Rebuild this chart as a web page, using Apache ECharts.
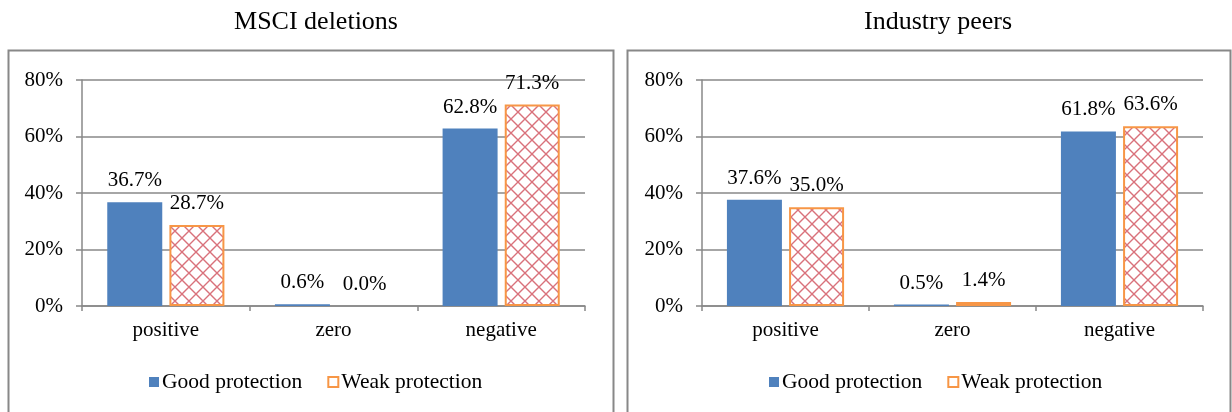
<!DOCTYPE html>
<html><head><meta charset="utf-8">
<script src="https://cdn.jsdelivr.net/npm/echarts@6/dist/echarts.min.js"></script>
<style>html,body{margin:0;padding:0;background:#fff}#c{width:1232px;height:412px}</style>
</head><body><div id="c"></div>
<script>
const categories = ['positive', 'zero', 'negative'];
const seriesNames = ['Good protection', 'Weak protection'];
const panelTitles = ['MSCI deletions', 'Industry peers'];
const msciGood = [0.367, 0.006, 0.628];
const msciWeak = [0.287, 0.000, 0.713];
const peersGood = [0.376, 0.005, 0.618];
const peersWeak = [0.350, 0.014, 0.636];
const yTicks = [0, 0.2, 0.4, 0.6, 0.8];

const FONT = '"Liberation Serif", "Times New Roman", serif';
const BLUE = '#4f81bd', ORANGE = '#f79646', GRID = '#888888';

// crosshatch pattern
const pc = document.createElement('canvas');
const P = 14;
pc.width = P; pc.height = P;
const ctx = pc.getContext('2d');
ctx.fillStyle = '#fff'; ctx.fillRect(0, 0, P, P);
ctx.strokeStyle = 'rgba(210,88,100,0.85)';
ctx.lineWidth = 1.4;
ctx.beginPath();
ctx.moveTo(0, 0); ctx.lineTo(P, P);
ctx.moveTo(P, 0); ctx.lineTo(0, P);
ctx.stroke();

const chart = echarts.init(document.getElementById('c'), null, {renderer: 'canvas'});
const grids = [
  {left: 82, right: 647, top: 80, bottom: 106},
  {left: 702, right: 29, top: 80, bottom: 106}
];
const pct = v => (v * 100).toFixed(1) + '%';
const labelCfg = {show: true, position: 'top', distance: 11, formatter: p => pct(p.value),
  fontFamily: FONT, fontSize: 21, color: '#000'};

function xAx(i) {
  return {type: 'category', gridIndex: i, data: categories,
    axisLine: {lineStyle: {color: GRID, width: 1.5}},
    axisTick: {show: true, length: 5, lineStyle: {color: GRID, width: 1.5}},
    axisLabel: {fontFamily: FONT, fontSize: 21, color: '#000', margin: 14}};
}
function yAx(i) {
  return {type: 'value', gridIndex: i, min: 0, max: 0.8, interval: 0.2,
    axisLine: {show: true, lineStyle: {color: GRID, width: 1.5}},
    axisTick: {show: true, length: 6, lineStyle: {color: GRID, width: 1.5}},
    splitLine: {lineStyle: {color: GRID, width: 1.5}},
    axisLabel: {formatter: v => Math.round(v * 100) + '%', fontFamily: FONT, fontSize: 21, color: '#000', margin: 19}};
}
function bars(i, good, weak) {
  return [
    {name: seriesNames[0], type: 'bar', xAxisIndex: i, yAxisIndex: i, data: good,
      barWidth: 55, barGap: '13%', itemStyle: {color: BLUE}, label: labelCfg},
    {name: seriesNames[1], type: 'bar', xAxisIndex: i, yAxisIndex: i,
      data: weak.map(v => v === 0 ? {value: v, itemStyle: {borderWidth: 0}} : v),
      barWidth: 55, barGap: '13%',
      itemStyle: {color: {image: pc, repeat: 'repeat'}, borderColor: ORANGE, borderWidth: 2},
      label: labelCfg}
  ];
}
const legendData = [
  {name: seriesNames[0], itemStyle: {color: BLUE}},
  {name: seriesNames[1], itemStyle: {color: '#fff', borderColor: ORANGE, borderWidth: 2}}
];
function legend(left) {
  return {data: legendData, top: 366, left: left, itemWidth: 10, itemHeight: 10, itemGap: 25,
    icon: 'rect', selectedMode: false,
    textStyle: {fontFamily: FONT, fontSize: 21.5, color: '#000', padding: [0, 0, 0, -2]}};
}
chart.setOption({
  animation: false,
  title: [
    {text: panelTitles[0], left: 311, top: 4, textAlign: 'center', textStyle: {fontFamily: FONT, fontSize: 26, fontWeight: 'normal', color: '#000'}},
    {text: panelTitles[1], left: 933, top: 4, textAlign: 'center', textStyle: {fontFamily: FONT, fontSize: 26, fontWeight: 'normal', color: '#000'}}
  ],
  graphic: [
    {type: 'rect', shape: {x: 8.5, y: 50.5, width: 605, height: 380}, style: {fill: 'none', stroke: GRID, lineWidth: 2}, silent: true},
    {type: 'rect', shape: {x: 627.5, y: 50.5, width: 603, height: 380}, style: {fill: 'none', stroke: GRID, lineWidth: 2}, silent: true}
  ],
  legend: [legend(144), legend(764)],
  grid: grids,
  xAxis: [xAx(0), xAx(1)],
  yAxis: [yAx(0), yAx(1)],
  series: [...bars(0, msciGood, msciWeak), ...bars(1, peersGood, peersWeak)]
});
</script></body></html>
